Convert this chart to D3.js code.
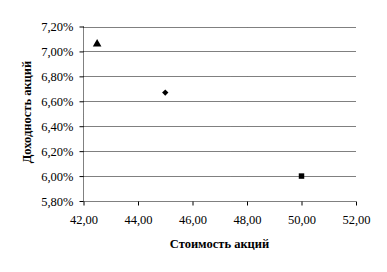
<!DOCTYPE html>
<html lang="ru">
<head>
<meta charset="UTF-8">
<title>Доходность акций</title>
<style>
    body { margin: 0; background: #fff; }
    svg { display: block; }
    .tick text { font-family: "Liberation Serif", "Times New Roman", serif; font-size: 12.5px; fill: #000; }
    .title { font-family: "Liberation Serif", "Times New Roman", serif; font-size: 12.5px; font-weight: bold; fill: #000; }
</style>
</head>
<body>
<script src="https://d3js.org/d3.v7.min.js"></script>
<script>
    const width = 387;
    const height = 272;

    // data
    const prices = [42.5, 45.0, 50.0];
    const yields = [7.06, 6.67, 6.00];
    const shapes = ["triangle", "diamond", "square"];
    const xTicks = [42, 44, 46, 48, 50, 52];
    const yTicks = [5.8, 6.0, 6.2, 6.4, 6.6, 6.8, 7.0, 7.2];

    const margin = { left: 83.5, right: 31, top: 26.5, bottom: 71 };

    const svg = d3.select("body").append("svg")
        .attr("width", width)
        .attr("height", height);

    const x = d3.scaleLinear().domain([42, 52]).range([margin.left, width - margin.right]);
    const y = d3.scaleLinear().domain([5.8, 7.2]).range([height - margin.bottom, margin.top]);

    const fmt = d3.format(".2f");

    // gridlines
    svg.append("g")
        .selectAll("line")
        .data(yTicks.slice(1))
        .join("line")
        .attr("x1", x(42))
        .attr("x2", x(52))
        .attr("y1", d => Math.round(y(d)) + 0.5)
        .attr("y2", d => Math.round(y(d)) + 0.5)
        .attr("stroke", "#000")
        .attr("stroke-dasharray", "1,1");

    const yAxis = svg.append("g")
        .attr("transform", `translate(${x(42)},0)`)
        .call(d3.axisLeft(y).tickValues(yTicks).tickSize(4).tickPadding(6)
            .tickFormat(d => fmt(d).replace(".", ",") + "%"));

    const xAxis = svg.append("g")
        .attr("transform", `translate(0,${Math.round(y(5.8)) + 0.5})`)
        .call(d3.axisBottom(x).tickValues(xTicks).tickSize(4).tickPadding(10)
            .tickFormat(d => fmt(d).replace(".", ",")));

    [yAxis, xAxis].forEach(g => {
        g.select(".domain").attr("stroke-dasharray", "1,1");
        g.selectAll(".tick line").attr("stroke", "#000");
    });
    yAxis.select(".domain").attr("d", `M0,${y(7.2)}V${y(5.8)}`);
    xAxis.select(".domain").attr("d", `M${x(42)},0H${x(52)}`);

    // points
    const symbolMap = {
        triangle: d3.symbol().type(d3.symbolTriangle).size(32),
        diamond: d3.symbol().type(d3.symbolSquare).size(20),
        square: d3.symbol().type(d3.symbolSquare).size(30)
    };

    svg.append("g")
        .selectAll("path")
        .data(prices.map((p, i) => ({ p, r: yields[i], s: shapes[i] })))
        .join("path")
        .attr("transform", d => `translate(${x(d.p)},${y(d.r)})` + (d.s === "diamond" ? " rotate(45)" : ""))
        .attr("d", d => symbolMap[d.s]())
        .attr("fill", "#000");

    // axis titles
    svg.append("text")
        .attr("class", "title")
        .attr("x", 219.5)
        .attr("y", 248)
        .attr("text-anchor", "middle")
        .text("Стоимость акций");

    svg.append("text")
        .attr("class", "title")
        .attr("transform", "translate(31,112) rotate(-90)")
        .attr("text-anchor", "middle")
        .text("Доходность акций");
</script>
</body>
</html>
